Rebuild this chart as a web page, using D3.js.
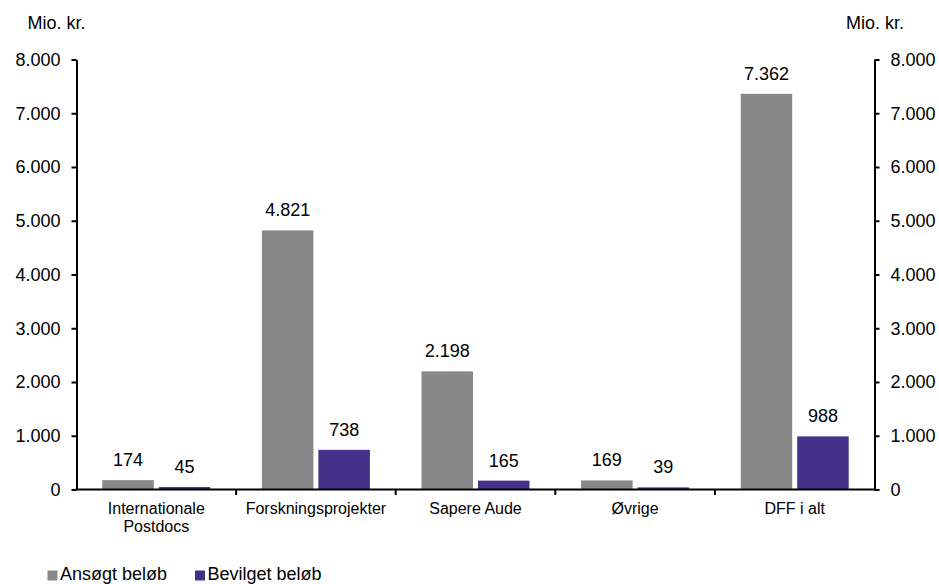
<!DOCTYPE html>
<html>
<head>
<meta charset="utf-8">
<script src="https://cdn.jsdelivr.net/npm/d3@7"></script>
<style>
  html, body { margin: 0; padding: 0; background: #fff; }
  svg { display: block; font-family: "Liberation Sans", Arial, sans-serif; }
</style>
</head>
<body>
<svg id="chart" width="939" height="584"></svg>
<script>
// Ansøgt og bevilget beløb pr. virkemiddel, mio. kr.
const categories = [
  ["Internationale", "Postdocs"],
  ["Forskningsprojekter"],
  ["Sapere Aude"],
  ["Øvrige"],
  ["DFF i alt"]
];
const seriesNames = ["Ansøgt beløb", "Bevilget beløb"];
const ansoegt = [174, 4821, 2198, 169, 7362];
const bevilget = [45, 738, 165, 39, 988];
const yTicks = [0, 1000, 2000, 3000, 4000, 5000, 6000, 7000, 8000];
const axisUnit = "Mio. kr.";
const colors = ["#888888", "#45318a"];

const da = d3.formatLocale({ decimal: ",", thousands: ".", grouping: [3], currency: ["", " kr."] });
const fmt = da.format(",");

const svg = d3.select("#chart");
const plotLeft = 76.5, plotRight = 874.5, plotTop = 59.5, plotBottom = 489.5;

const keys = categories.map((c, i) => i);
const x = d3.scaleBand().domain(keys).range([plotLeft, plotRight]).paddingInner(0).paddingOuter(0);
const y = d3.scaleLinear().domain([0, 8000]).range([plotBottom, plotTop]);

const barW = 51.5, gap = 5;
const series = [ansoegt, bevilget];

// Bars
series.forEach((vals, s) => {
  svg.append("g").selectAll("rect")
    .data(vals)
    .join("rect")
    .attr("x", (d, i) => x(i) + x.bandwidth() / 2 + (s === 0 ? -gap / 2 - barW : gap / 2))
    .attr("y", d => y(d))
    .attr("width", barW)
    .attr("height", d => y(0) - y(d))
    .attr("fill", colors[s]);
});

// Value labels above bars
series.forEach((vals, s) => {
  svg.append("g").selectAll("text")
    .data(vals)
    .join("text")
    .attr("x", (d, i) => x(i) + x.bandwidth() / 2 + (s === 0 ? -gap / 2 - barW / 2 : gap / 2 + barW / 2))
    .attr("y", d => y(d) - 14)
    .attr("text-anchor", "middle")
    .attr("font-size", 18)
    .attr("fill", "#000")
    .text(d => fmt(d));
});

// Y axes on both sides
const axL = d3.axisLeft(y).tickValues(yTicks).tickFormat(fmt).tickSizeInner(5).tickSizeOuter(0).tickPadding(11);
const axR = d3.axisRight(y).tickValues(yTicks).tickFormat(fmt).tickSizeInner(5).tickSizeOuter(0).tickPadding(11);

function styleAxis(g) {
  g.select(".domain").attr("stroke", "#000").attr("stroke-width", 2);
  g.selectAll(".tick line").attr("stroke", "#000").attr("stroke-width", 2);
  g.selectAll(".tick text").attr("font-size", 18).attr("fill", "#000")
    .attr("font-family", "Liberation Sans, Arial, sans-serif");
}
svg.append("g").attr("transform", `translate(${plotLeft},0)`).call(axL).call(styleAxis);
svg.append("g").attr("transform", `translate(${plotRight},0)`).call(axR).call(styleAxis);

// X axis line with ticks at category boundaries
const xg = svg.append("g");
xg.append("line")
  .attr("x1", plotLeft - 1).attr("x2", plotRight + 1)
  .attr("y1", y(0)).attr("y2", y(0))
  .attr("stroke", "#000").attr("stroke-width", 2);
xg.selectAll("line.b")
  .data(keys.slice(1))
  .join("line")
  .attr("class", "b")
  .attr("x1", d => x(d)).attr("x2", d => x(d))
  .attr("y1", y(0)).attr("y2", y(0) + 5.5)
  .attr("stroke", "#000").attr("stroke-width", 2);

// Category labels
const cl = xg.selectAll("text.cat")
  .data(categories)
  .join("text")
  .attr("class", "cat")
  .attr("text-anchor", "middle")
  .attr("font-size", 16)
  .attr("fill", "#000");
cl.each(function (lines, i) {
  d3.select(this).selectAll("tspan")
    .data(lines)
    .join("tspan")
    .attr("x", x(i) + x.bandwidth() / 2)
    .attr("y", (d, j) => 514 + j * 18)
    .text(d => d);
});

// Unit titles
svg.append("text").attr("x", 27.5).attr("y", 29).attr("font-size", 18).attr("fill", "#000").text(axisUnit);
svg.append("text").attr("x", 904).attr("y", 29).attr("text-anchor", "end").attr("font-size", 18).attr("fill", "#000").text(axisUnit);

// Legend
const legendX = [47.5, 195];
const lg = svg.append("g").selectAll("g")
  .data(seriesNames)
  .join("g")
  .attr("transform", (d, i) => `translate(${legendX[i]},0)`);
lg.append("rect").attr("x", 0).attr("y", 570.5).attr("width", 10).attr("height", 10).attr("fill", (d, i) => colors[i]);
lg.append("text").attr("x", 12.5).attr("y", 580).attr("font-size", 18).attr("fill", "#000").text(d => d);
</script>
</body>
</html>
